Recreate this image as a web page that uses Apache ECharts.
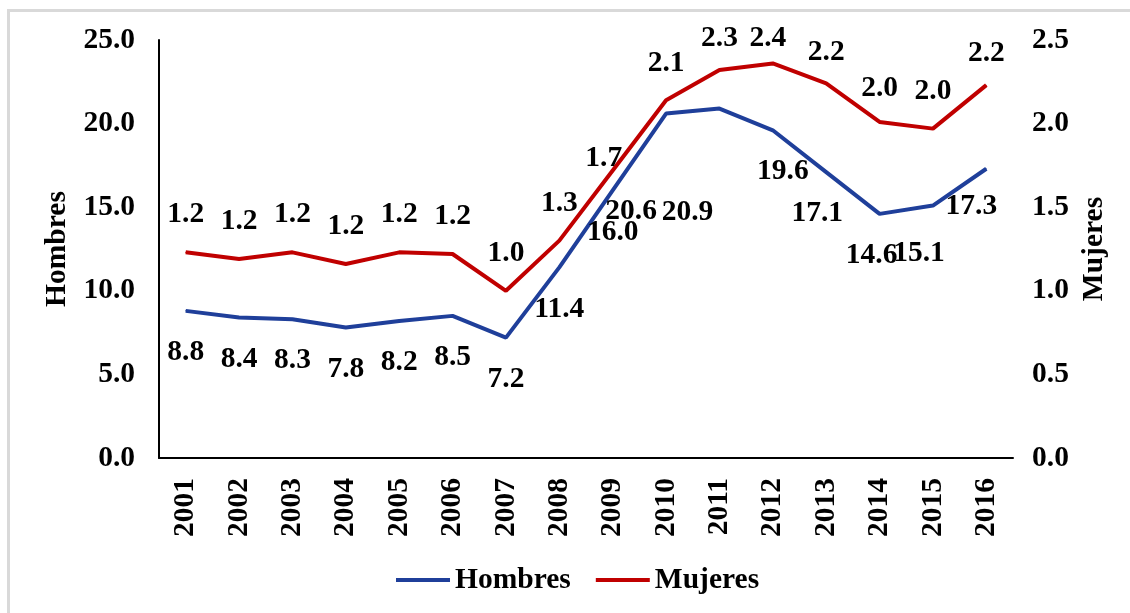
<!DOCTYPE html>
<html>
<head>
<meta charset="utf-8">
<script src="https://cdn.jsdelivr.net/npm/echarts@6/dist/echarts.min.js"></script>
<style>
  html, body { margin: 0; padding: 0; background: #fff; }
  .frame {
    position: absolute; left: 7px; top: 9px; width: 1123px; height: 604px;
    border-left: 3px solid #d9d9d9; border-top: 3px solid #d9d9d9; box-sizing: border-box;
  }
  #chart { position: absolute; left: 0; top: 0; width: 1130px; height: 613px; }
</style>
</head>
<body>
<div class="frame"></div>
<div id="chart"></div>
<script>
// años
const years = ['2001', '2002', '2003', '2004', '2005', '2006', '2007', '2008',
  '2009', '2010', '2011', '2012', '2013', '2014', '2015', '2016']
// eje izquierdo
const hombres = [8.8, 8.4, 8.3, 7.8, 8.2, 8.5, 7.2, 11.4, 16.0, 20.6, 20.9, 19.6, 17.1, 14.6, 15.1, 17.3]
// eje derecho
const mujeres = [1.23, 1.19, 1.23, 1.16, 1.23, 1.22, 1.0, 1.3, 1.72, 2.14, 2.32, 2.36, 2.24, 2.01, 1.97, 2.23]

const FONT = '"Liberation Serif", "Times New Roman", serif'
const txt = { fontFamily: FONT, fontWeight: 'bold', fontSize: 29.5, color: '#000' }

// desplazamientos manuales de etiquetas (como en el gráfico original)
const hombresLabelOffset = { 9: [-35, 56], 10: [-32, 62], 11: [10, 0], 12: [-9, 0], 13: [-8, 0], 14: [-14, 6], 15: [-15, -4] }
const mujeresLabelOffset = { 8: [-9, 25], 9: [0, 1], 10: [0, 6], 11: [-5, 12], 12: [0, 6], 13: [0, 4], 15: [0, 6] }

function withOffsets(values, offsets) {
  return values.map((v, i) => offsets[i] ? { value: v, label: { offset: offsets[i] } } : v)
}

const chart = echarts.init(document.getElementById('chart'))

chart.setOption({
  animation: false,
  grid: { left: 159, right: 117, top: 40, bottom: 155 },
  legend: {
    bottom: 13,
    left: 391,
    icon: 'rect',
    itemWidth: 54,
    itemHeight: 4,
    itemGap: 25,
    textStyle: { ...txt, padding: [0, 0, 0, 0] },
    data: ['Hombres', 'Mujeres']
  },
  xAxis: {
    type: 'category',
    data: years,
    boundaryGap: true,
    axisLine: { show: true, lineStyle: { color: '#000', width: 2 } },
    axisTick: { show: false },
    axisLabel: { ...txt, rotate: 90, margin: 20, interval: 0 }
  },
  yAxis: [
    {
      type: 'value',
      min: 0, max: 25, interval: 5,
      name: 'Hombres',
      nameLocation: 'middle',
      nameGap: 82,
      nameRotate: 90,
      nameTextStyle: txt,
      axisLine: { show: true, lineStyle: { color: '#000', width: 2 } },
      axisTick: { show: false },
      splitLine: { show: false },
      axisLabel: { ...txt, margin: 24, formatter: v => v.toFixed(1) }
    },
    {
      type: 'value',
      min: 0, max: 2.5, interval: 0.5,
      name: 'Mujeres',
      nameLocation: 'middle',
      nameGap: 66,
      nameRotate: 90,
      nameTextStyle: txt,
      axisLine: { show: false },
      axisTick: { show: false },
      splitLine: { show: false },
      axisLabel: { ...txt, margin: 19, formatter: v => v.toFixed(1) }
    }
  ],
  series: [
    {
      name: 'Hombres',
      type: 'line',
      yAxisIndex: 0,
      data: withOffsets(hombres, hombresLabelOffset),
      symbol: 'circle',
      symbolSize: 1,
      showSymbol: true,
      color: '#1F3F9A',
      lineStyle: { width: 4, color: '#1F3F9A' },
      label: {
        show: true, position: 'bottom', distance: 26, ...txt,
        formatter: p => Number(p.value).toFixed(1)
      }
    },
    {
      name: 'Mujeres',
      type: 'line',
      yAxisIndex: 1,
      data: withOffsets(mujeres, mujeresLabelOffset),
      symbol: 'circle',
      symbolSize: 1,
      showSymbol: true,
      color: '#C00000',
      lineStyle: { width: 4, color: '#C00000' },
      label: {
        show: true, position: 'top', distance: 22, ...txt,
        formatter: p => Number(p.value).toFixed(1)
      }
    }
  ]
})
</script>
</body>
</html>
